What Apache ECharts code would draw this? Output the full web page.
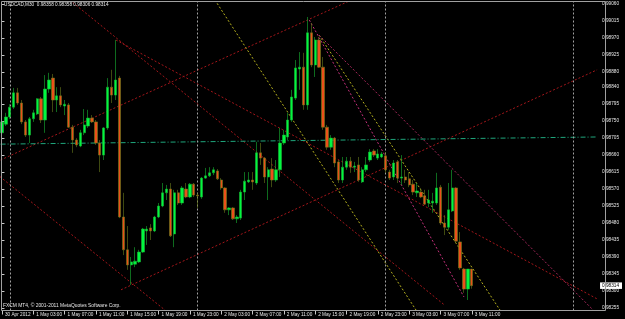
<!DOCTYPE html>
<html><head><meta charset="utf-8">
<script src="https://cdn.jsdelivr.net/npm/echarts@6/dist/echarts.min.js"></script>
<style>html,body{margin:0;padding:0;background:#000;}#c{width:625px;height:319px;}</style>
</head><body><div id="c"></div>
<script>
const symbolName = 'USDCAD,M30';
const copyright = 'FXCM MT4, \u00a9 2001-2011 MetaQuotes Software Corp.';
const slotCount = 153;
const timeLabels = ['30 Apr 2012','1 May 03:00','1 May 07:00','1 May 11:00','1 May 15:00','1 May 19:00','1 May 23:00','2 May 03:00','2 May 07:00','2 May 11:00','2 May 15:00','2 May 19:00','2 May 23:00','3 May 03:00','3 May 07:00','3 May 11:00'];
const labelStep = 8;
const daySeparators = [2, 50, 98, 146];

const openP = [0.98719,0.98742,0.98761,0.98787,0.98825,0.98798,0.98748,0.98713,0.98756,0.98769,
0.98809,0.98753,0.98835,0.98864,0.98806,0.98817,0.98790,0.98793,0.98734,0.98700,
0.98684,0.98719,0.98737,0.98758,0.98748,0.98692,0.98660,0.98732,0.98840,0.98819,
0.98864,0.98496,0.98409,0.98369,0.98371,0.98377,0.98403,0.98459,0.98467,0.98459,
0.98496,0.98525,0.98560,0.98570,0.98451,0.98560,0.98533,0.98570,0.98549,0.98583,
0.98554,0.98549,0.98599,0.98605,0.98613,0.98618,0.98594,0.98573,0.98515,0.98520,
0.98491,0.98493,0.98562,0.98589,0.98594,0.98586,0.98666,0.98652,0.98602,0.98623,
0.98594,0.98621,0.98692,0.98708,0.98753,0.98811,0.98888,0.98893,0.98793,0.98984,
0.98899,0.98965,0.98893,0.98734,0.98681,0.98705,0.98642,0.98594,0.98628,0.98644,
0.98628,0.98634,0.98589,0.98621,0.98647,0.98671,0.98652,0.98655,0.98658,0.98615,
0.98602,0.98642,0.98599,0.98602,0.98597,0.98583,0.98560,0.98562,0.98552,0.98533,
0.98533,0.98533,0.98575,0.98480,0.98469,0.98512,0.98573,0.98430,0.98358,0.98305,
0.98358];
const closeP = [0.98748,0.98761,0.98787,0.98825,0.98798,0.98748,0.98713,0.98756,0.98772,0.98809,
0.98753,0.98835,0.98859,0.98806,0.98817,0.98793,0.98795,0.98734,0.98700,0.98687,
0.98719,0.98740,0.98758,0.98748,0.98692,0.98660,0.98732,0.98840,0.98819,0.98859,
0.98496,0.98409,0.98369,0.98377,0.98379,0.98403,0.98464,0.98464,0.98459,0.98496,
0.98525,0.98560,0.98570,0.98446,0.98560,0.98533,0.98573,0.98549,0.98583,0.98554,
0.98552,0.98599,0.98605,0.98613,0.98621,0.98597,0.98573,0.98515,0.98520,0.98491,
0.98496,0.98562,0.98591,0.98594,0.98589,0.98666,0.98652,0.98602,0.98621,0.98594,
0.98621,0.98692,0.98713,0.98753,0.98814,0.98891,0.98893,0.98793,0.98984,0.98899,
0.98965,0.98893,0.98734,0.98681,0.98705,0.98639,0.98594,0.98628,0.98644,0.98628,
0.98631,0.98594,0.98621,0.98634,0.98668,0.98660,0.98663,0.98663,0.98621,0.98599,
0.98639,0.98599,0.98602,0.98594,0.98581,0.98562,0.98565,0.98549,0.98530,0.98541,
0.98538,0.98573,0.98480,0.98469,0.98515,0.98573,0.98432,0.98361,0.98305,0.98358,
0.98314];
const lowP = [0.98713,0.98737,0.98756,0.98782,0.98793,0.98742,0.98708,0.98692,0.98748,0.98766,
0.98745,0.98719,0.98825,0.98774,0.98774,0.98787,0.98766,0.98732,0.98666,0.98681,
0.98681,0.98713,0.98732,0.98745,0.98687,0.98615,0.98647,0.98727,0.98798,0.98806,
0.98493,0.98395,0.98356,0.98316,0.98363,0.98374,0.98401,0.98422,0.98435,0.98456,
0.98493,0.98522,0.98541,0.98443,0.98416,0.98528,0.98528,0.98546,0.98546,0.98549,
0.98520,0.98544,0.98597,0.98602,0.98607,0.98594,0.98568,0.98507,0.98501,0.98488,
0.98480,0.98488,0.98541,0.98586,0.98568,0.98581,0.98634,0.98586,0.98541,0.98575,
0.98589,0.98602,0.98687,0.98700,0.98748,0.98806,0.98833,0.98780,0.98780,0.98893,
0.98867,0.98891,0.98727,0.98674,0.98674,0.98628,0.98586,0.98586,0.98621,0.98613,
0.98615,0.98589,0.98586,0.98615,0.98642,0.98655,0.98647,0.98652,0.98613,0.98594,
0.98594,0.98586,0.98581,0.98586,0.98575,0.98554,0.98549,0.98546,0.98528,0.98522,
0.98507,0.98528,0.98475,0.98448,0.98462,0.98509,0.98427,0.98356,0.98295,0.98276,
0.98306];
const highP = [0.98758,0.98772,0.98795,0.98838,0.98838,0.98806,0.98753,0.98761,0.98780,0.98811,
0.98814,0.98872,0.98878,0.98875,0.98840,0.98840,0.98806,0.98798,0.98740,0.98705,
0.98727,0.98782,0.98780,0.98766,0.98753,0.98700,0.98734,0.98864,0.98886,0.98965,
0.98870,0.98560,0.98472,0.98390,0.98416,0.98409,0.98467,0.98472,0.98477,0.98499,
0.98533,0.98586,0.98581,0.98586,0.98568,0.98568,0.98578,0.98586,0.98586,0.98586,
0.98560,0.98602,0.98626,0.98628,0.98628,0.98623,0.98599,0.98575,0.98522,0.98522,
0.98501,0.98568,0.98615,0.98615,0.98615,0.98695,0.98692,0.98655,0.98628,0.98652,
0.98647,0.98732,0.98727,0.98772,0.98833,0.98912,0.98933,0.98931,0.99026,0.99010,
0.98973,0.98973,0.98920,0.98740,0.98713,0.98708,0.98647,0.98655,0.98655,0.98655,
0.98642,0.98655,0.98628,0.98655,0.98676,0.98676,0.98676,0.98668,0.98668,0.98621,
0.98647,0.98647,0.98660,0.98621,0.98615,0.98594,0.98586,0.98573,0.98568,0.98568,
0.98560,0.98613,0.98581,0.98501,0.98586,0.98621,0.98575,0.98456,0.98361,0.98358,
0.98358];

const priceTicks = [0.99060,0.99015,0.98970,0.98925,0.98880,0.98840,0.98795,0.98750,0.98705,0.98660,0.98615,0.98570,0.98525,0.98480,0.98435,0.98390,0.98345,0.98300,0.98255];
const priceMin = 0.982482, priceMax = 0.990670;

// trend lines: [[barIndex, price], [barIndex, price]]
const redLine1 = [[-2.9, 0.98623], [42.5, 0.98242]];
const redLine2 = [[30.4, 0.98303], [152.0, 0.98886]];
const redLine3 = [[-0.35, 0.98647], [90.3, 0.99076]];
const redLine4 = [[17.3, 0.99071], [113.0, 0.98263]];
const redLine5 = [[29.1, 0.98965], [152.0, 0.98279]];
const yellowLine1 = [[54.4, 0.99071], [105.9, 0.98247]];
const yellowLine2 = [[81.0, 0.98978], [127.35, 0.98247]];
const magentaLine1 = [[78.5, 0.99018], [118.0, 0.98284]];
const magentaLine2 = [[81.0, 0.98978], [152.0, 0.98239]];
const tealLine = [[-0.35, 0.98689], [152.0, 0.98708]];

const n = openP.length;
const last = n - 1;
const candles = openP.map((o, i) => [o, closeP[i], lowP[i], highP[i]]);
const cats = Array.from({length: slotCount}, (_, i) => String(i));
const FONT = 'Liberation Sans, Arial, sans-serif';
const FS = 4.7;
const TXT = '#e6e6e6';

function tl(data, color, type, width) {
  return {type: 'line', xAxisIndex: 1, yAxisIndex: 0, data: data, symbol: 'none', silent: true,
    clip: true, z: 1, lineStyle: {color: color, type: type, width: width || 1}};
}

const chart = echarts.init(document.getElementById('c'), null, {renderer: 'canvas'});
chart.setOption({
  backgroundColor: '#000000',
  animation: false,
  grid: {left: -0.585, width: 607.41, top: 1.5, height: 309, containLabel: false},
  xAxis: [{
    type: 'category', data: cats, boundaryGap: true,
    axisLine: {show: false},
    axisTick: {show: true, alignWithLabel: true, length: 4, lineStyle: {color: '#c8c8c8'},
      interval: (i) => i % labelStep === 0 && i / labelStep < timeLabels.length},
    axisLabel: {show: true, color: TXT, fontSize: FS, fontFamily: FONT, align: 'left', margin: 2,
      padding: [0, 0, 0, 3], hideOverlap: false,
      interval: (i) => i % labelStep === 0 && i / labelStep < timeLabels.length,
      formatter: (v, i) => timeLabels[i / labelStep] || ''},
    splitLine: {show: false}
  }, {
    type: 'value', min: -0.5, max: slotCount - 0.5, show: false
  }],
  yAxis: [{
    type: 'value', position: 'right', min: priceMin, max: priceMax, scale: true,
    axisLine: {show: false},
    axisTick: {show: true, length: 2.5, customValues: priceTicks, lineStyle: {color: '#c8c8c8'}},
    axisLabel: {color: TXT, fontSize: FS, fontFamily: FONT, margin: 3, customValues: priceTicks,
      formatter: (v) => v.toFixed(5)},
    splitLine: {show: false}
  }, {
    type: 'value', position: 'right', min: priceMin, max: priceMax, scale: true,
    axisLine: {show: false}, axisTick: {show: false}, splitLine: {show: false},
    axisLabel: {color: '#000', backgroundColor: '#ffffff', fontSize: FS, fontFamily: FONT, margin: 1,
      padding: [1, 3, 0.5, 2], customValues: [closeP[last]], formatter: (v) => v.toFixed(5)}
  }],
  series: [
    tl(redLine1, '#a3161a', [2, 2]),
    tl(redLine2, '#a3161a', [2, 2]),
    tl(redLine3, '#a3161a', [2, 2]),
    tl(redLine4, '#a3161a', [2, 2]),
    tl(redLine5, '#a3161a', [2, 2]),
    tl(yellowLine1, '#b5b01e', [2, 2]),
    tl(yellowLine2, '#b5b01e', [2, 2]),
    tl(magentaLine1, '#c4307a', [2, 2]),
    tl(magentaLine2, '#a8285c', [2, 2]),
    tl(tealLine, '#1fa67c', [5, 2, 1, 2]),
    {
      type: 'line', xAxisIndex: 1, yAxisIndex: 0, data: [], silent: true,
      markLine: {symbol: 'none', silent: true, label: {show: false},
        data: daySeparators.map(d => ({xAxis: d, lineStyle: {color: '#a0a0a0', type: [2, 2], width: 1}}))
          .concat([{yAxis: closeP[last], lineStyle: {color: '#8c8c8c', type: 'solid', width: 1}}])}
    },
    {
      type: 'candlestick', xAxisIndex: 0, yAxisIndex: 0, data: candles, barWidth: 2.8, z: 5,
      itemStyle: {color: '#00f840', color0: '#ec501a', borderColor: '#18b432', borderColor0: '#6a7c1c', borderWidth: 0.6}
    }
  ],
  graphic: [
    {type: 'rect', silent: true, z: 100, shape: {x: 1.5, y: 1.5, width: 604, height: 309},
      style: {fill: 'none', stroke: '#a0a0a0', lineWidth: 1}},
    {type: 'text', silent: true, z: 100, left: 4, top: 2.5,
      style: {text: symbolName + '  ' + [openP[last], highP[last], lowP[last], closeP[last]].map(v => v.toFixed(5)).join(' '),
        fill: TXT, font: FS + 'px ' + FONT}},
    {type: 'text', silent: true, z: 100, left: 3, top: 303,
      style: {text: copyright, fill: TXT, font: '4.9px ' + FONT}}
  ]
});
</script></body></html>
